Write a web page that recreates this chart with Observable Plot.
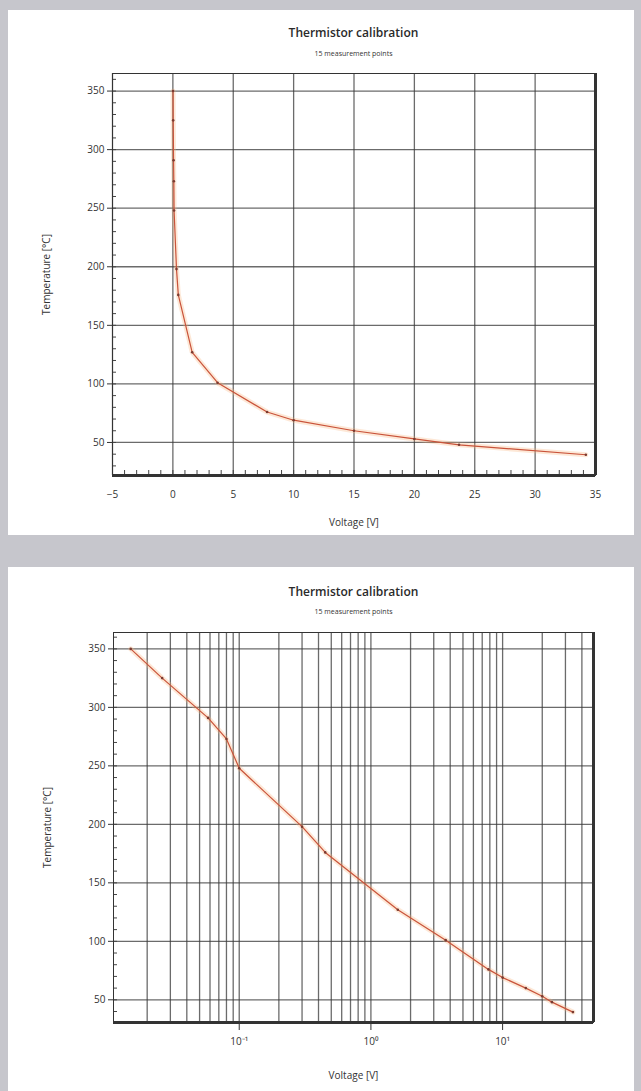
<!DOCTYPE html>
<html><head><meta charset="utf-8">
<script src="https://cdn.jsdelivr.net/npm/d3@7"></script>
<script src="https://cdn.jsdelivr.net/npm/@observablehq/plot@0.6"></script>
<style>
body{margin:0;width:641px;height:1091px;background:#c6c6cc;position:relative;overflow:hidden;font-family:"Open Sans",sans-serif;}
.card{position:absolute;left:8px;width:626px;background:#fff;}
.title{position:absolute;left:112px;width:483px;text-align:center;font-size:12px;line-height:16px;font-weight:600;color:#2a2a2a;}
.sub{position:absolute;left:112px;width:483px;text-align:center;font-size:7px;line-height:10px;color:#333;}
.chart{position:absolute;left:0;}
</style></head><body>
<div class="card" style="top:10px;height:525px"></div>
<div class="card" style="top:567px;height:524px"></div>
<div class="title" style="top:25px">Thermistor calibration</div>
<div class="sub" style="top:49px">15 measurement points</div>
<div class="title" style="top:584px">Thermistor calibration</div>
<div class="sub" style="top:607px">15 measurement points</div>
<div id="c1" class="chart" style="top:60px"></div>
<div id="c2" class="chart" style="top:620px"></div>
<script>
// measurement data
const voltage = [0.015, 0.026, 0.058, 0.08, 0.10, 0.30, 0.45, 1.6, 3.7, 7.8, 10, 15, 20, 23.7, 34.2];
const temperature = [350, 325, 291, 273, 248, 198, 176, 127, 101, 76, 69, 60, 53, 48, 39.5];

// axes
const xLinDomain = [-5, 35];
const xLinTicks = [-5, 0, 5, 10, 15, 20, 25, 30, 35];
const yTopDomain = [21.8, 365];
const yBotDomain = [30.6, 364];
const yTicks = [50, 100, 150, 200, 250, 300, 350];
const xLogDomain = [0.0111, 49];
const xLogTicks = [0.1, 1, 10];
const sup = {"-1": "⁻¹", "0": "⁰", "1": "¹"};

const data = voltage.map((v, i) => ({v, t: temperature[i]}));
const gridStyle = {stroke: "#3a3a3a", strokeOpacity: 0.75, strokeWidth: 1.3};
const curve = [
  Plot.line(data, {x: "v", y: "t", stroke: "#f9b27a", strokeOpacity: 0.3, strokeWidth: 5}),
  Plot.line(data, {x: "v", y: "t", stroke: "#c9533a", strokeWidth: 1.2}),
  Plot.dot(data, {x: "v", y: "t", r: 1.3, fill: "#7a3a30"})
];
const style = {fontFamily: "Open Sans", fontSize: "9px", color: "#333", background: "transparent", overflow: "visible"};

const p1 = Plot.plot({
  width: 641, height: 472, marginLeft: 112, marginRight: 46, marginTop: 13, marginBottom: 57,
  style,
  x: {domain: xLinDomain, label: null},
  y: {domain: yTopDomain, label: null},
  marks: [
    Plot.gridX({ticks: xLinTicks, ...gridStyle}),
    Plot.gridY({ticks: yTicks, ...gridStyle}),
    Plot.axisY({ticks: d3.range(30, 361, 10), tickSize: -4, text: null, label: null, stroke: "#444"}),
    Plot.axisX({ticks: d3.range(-5, 35.1, 1), tickSize: -5, text: null, label: null, stroke: "#444"}),
    Plot.axisY({ticks: yTicks, tickSize: 5, tickPadding: 3, label: "Temperature [°C]", labelAnchor: "center", labelOffset: 70, labelArrow: "none", fontSize: 10}),
    Plot.axisX({ticks: xLinTicks, tickSize: 0, tickPadding: 15, label: "Voltage [V]", labelAnchor: "center", labelOffset: 50, labelArrow: "none", fontSize: 10}),
    Plot.frame({stroke: "#333", strokeWidth: 1}),
    Plot.ruleY([yTopDomain[0]], {stroke: "#333", strokeWidth: 3}),
    Plot.ruleX([xLinDomain[1]], {stroke: "#333", strokeWidth: 3}),
    ...curve
  ]
});
document.getElementById("c1").append(p1);

const p2 = Plot.plot({
  width: 641, height: 460, marginLeft: 113, marginRight: 48, marginTop: 12, marginBottom: 58,
  style,
  x: {type: "log", domain: xLogDomain, label: null},
  y: {domain: yBotDomain, label: null},
  marks: [
    Plot.gridX({ticks: 10, ...gridStyle}),
    Plot.gridY({ticks: yTicks, ...gridStyle}),
    Plot.axisY({ticks: d3.range(40, 361, 10), tickSize: -4, text: null, label: null, stroke: "#444"}),
    Plot.axisY({ticks: yTicks, tickSize: 5, tickPadding: 3, label: "Temperature [°C]", labelAnchor: "center", labelOffset: 70, labelArrow: "none", fontSize: 10}),
    Plot.axisX({ticks: xLogTicks, tickSize: 8, tickPadding: 7, tickFormat: d => "10" + sup[String(Math.round(Math.log10(d)))], label: "Voltage [V]", labelAnchor: "center", labelOffset: 56, labelArrow: "none", fontSize: 10}),
    Plot.frame({stroke: "#333", strokeWidth: 1}),
    Plot.ruleY([yBotDomain[0]], {stroke: "#333", strokeWidth: 3}),
    Plot.ruleX([xLogDomain[1]], {stroke: "#333", strokeWidth: 3}),
    ...curve
  ]
});
document.getElementById("c2").append(p2);
</script>
</body></html>
